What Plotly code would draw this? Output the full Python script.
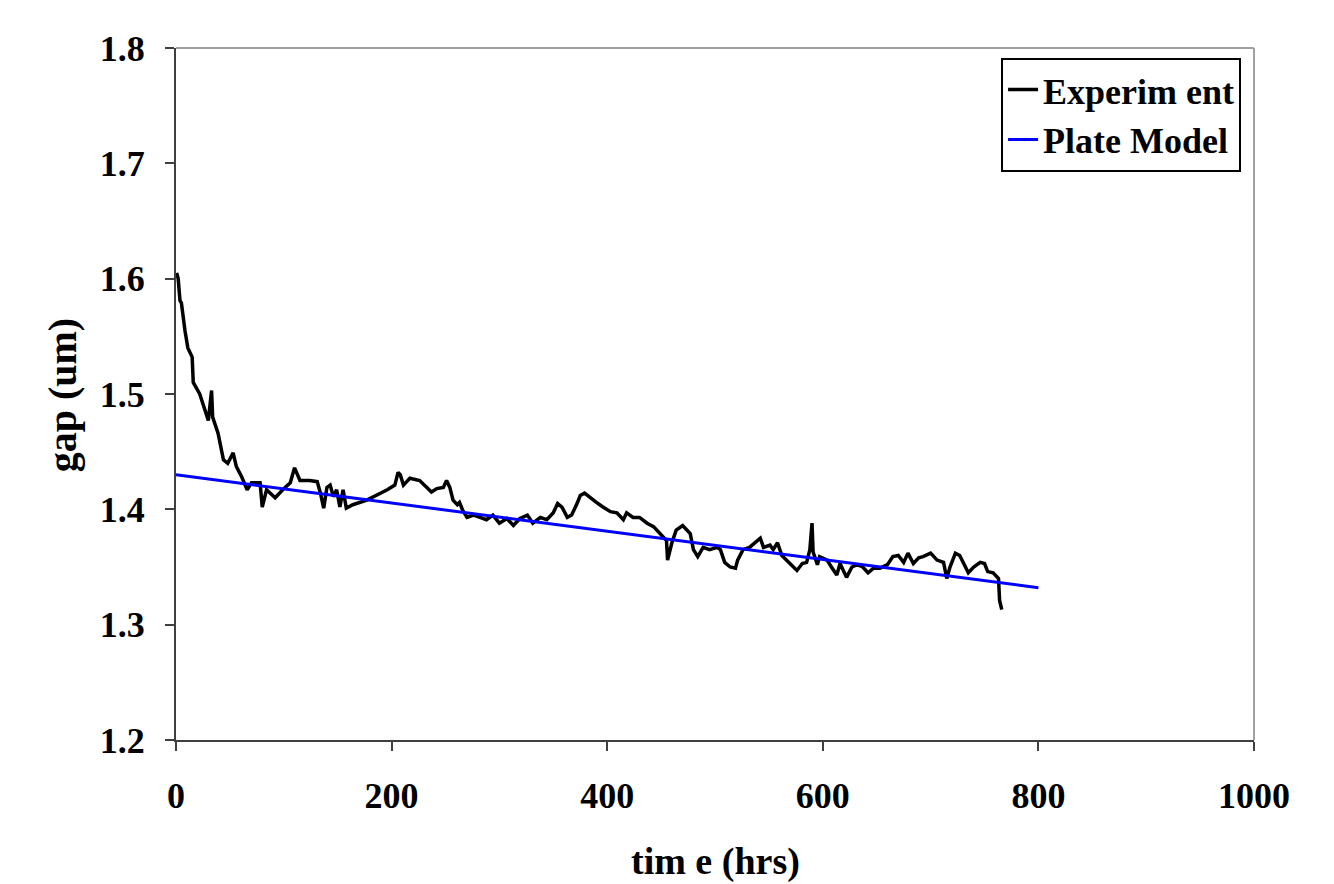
import plotly.graph_objects as go

# Experiment trace (time in hrs, gap in um)
exp_time = [0.6, 2, 3.7, 5, 8.3, 11, 15, 16, 22, 27, 30, 33, 34, 39, 44, 48, 53, 56, 61, 66,
            70, 78, 80, 84, 92, 99, 106, 110, 115, 124, 131, 134, 137, 140, 143, 146, 149, 152, 155, 158,
            164, 177, 186, 196, 203, 206, 208, 211, 214, 217, 226, 233, 237, 242, 248, 251, 254, 257, 261, 263,
            266, 270, 276, 282, 288, 294, 300, 307, 313, 319, 326, 331, 338, 344, 350, 354, 358, 363, 367, 372,
            375, 379, 384, 390, 396, 403, 409, 415, 418, 424, 430, 437, 443, 449, 455, 456, 460, 464, 470, 477,
            480, 484, 489, 495, 502, 505, 509, 514, 519, 521, 526, 532, 539, 542, 545, 551, 554, 558, 562, 570,
            576, 581, 585, 588, 590, 591, 595, 597, 604, 608, 613, 616, 622, 627, 632, 637, 642, 647, 653, 660,
            665, 670, 675, 679, 684, 689, 693, 700, 706, 712, 715, 718, 723, 727, 732, 735, 740, 746, 750, 753,
            758, 763, 764, 766]
exp_gap = [1.605, 1.600, 1.581, 1.579, 1.555, 1.540, 1.532, 1.510, 1.500, 1.486, 1.477, 1.503, 1.480, 1.466, 1.443, 1.440, 1.449, 1.437, 1.428, 1.417,
           1.423, 1.423, 1.402, 1.417, 1.410, 1.417, 1.423, 1.436, 1.425, 1.425, 1.424, 1.414, 1.401, 1.419, 1.421, 1.411, 1.417, 1.402, 1.417, 1.401,
           1.404, 1.408, 1.412, 1.417, 1.421, 1.432, 1.430, 1.421, 1.424, 1.427, 1.425, 1.419, 1.415, 1.418, 1.419, 1.425, 1.419, 1.408, 1.404, 1.406,
           1.399, 1.393, 1.395, 1.393, 1.391, 1.395, 1.388, 1.392, 1.386, 1.392, 1.395, 1.388, 1.393, 1.391, 1.397, 1.405, 1.402, 1.393, 1.395, 1.405,
           1.412, 1.414, 1.410, 1.406, 1.402, 1.398, 1.397, 1.391, 1.397, 1.393, 1.393, 1.388, 1.385, 1.379, 1.373, 1.356, 1.371, 1.382, 1.386, 1.379,
           1.365, 1.359, 1.367, 1.365, 1.367, 1.365, 1.354, 1.350, 1.349, 1.356, 1.365, 1.367, 1.372, 1.375, 1.367, 1.369, 1.365, 1.371, 1.360, 1.353,
           1.347, 1.353, 1.354, 1.365, 1.388, 1.363, 1.352, 1.359, 1.356, 1.350, 1.343, 1.353, 1.341, 1.350, 1.352, 1.350, 1.345, 1.349, 1.349, 1.352,
           1.359, 1.360, 1.354, 1.362, 1.353, 1.358, 1.359, 1.362, 1.356, 1.354, 1.340, 1.350, 1.362, 1.360, 1.350, 1.345, 1.350, 1.354, 1.353, 1.346,
           1.345, 1.340, 1.321, 1.313]

# Plate model (linear)
model_time = [0, 800]
model_gap = [1.430, 1.332]

x_ticks = [0, 200, 400, 600, 800, 1000]
y_ticks = [1.2, 1.3, 1.4, 1.5, 1.6, 1.7, 1.8]

FONT = "Liberation Serif"

fig = go.Figure()
fig.add_trace(go.Scatter(x=exp_time, y=exp_gap, mode="lines", name="<b>Experim ent</b>",
                         line=dict(color="black", width=3.5)))
fig.add_trace(go.Scatter(x=model_time, y=model_gap, mode="lines", name="<b>Plate Model</b>",
                         line=dict(color="#0000ff", width=3)))

fig.update_layout(
    width=1334, height=884,
    margin=dict(l=168, r=88, t=40, b=152, autoexpand=False),
    paper_bgcolor="white", plot_bgcolor="white",
    font=dict(family=FONT, color="black", size=32),
    showlegend=True,
    legend=dict(x=0.988, y=0.986, xanchor="right", yanchor="top",
                bgcolor="white", bordercolor="black", borderwidth=2,
                font=dict(family=FONT, size=36, color="black"),
                tracegroupgap=0, itemwidth=30),
    xaxis=dict(range=[0, 1000], tickvals=x_ticks, ticktext=[f"<b>{v}</b>" for v in x_ticks],
               showgrid=False, zeroline=False, showline=True, linecolor="#404040", linewidth=2,
               ticks="outside", ticklen=9, tickwidth=2, tickcolor="#404040", automargin=False,
               tickfont=dict(family=FONT, size=36, color="black"), ticklabelstandoff=14),
    yaxis=dict(range=[1.2, 1.8], tickvals=y_ticks, ticktext=[f"<b>{v:.1f}</b>" for v in y_ticks],
               showgrid=False, zeroline=False, showline=True, linecolor="#404040", linewidth=2,
               ticks="outside", ticklen=9, tickwidth=2, tickcolor="#404040", automargin=False,
               tickfont=dict(family=FONT, size=36, color="black"), ticklabelstandoff=13),
    annotations=[
        dict(text="<b>tim e (hrs)</b>", xref="paper", yref="paper", x=0.5, y=-0.1763,
             xanchor="center", yanchor="middle", showarrow=False,
             font=dict(family=FONT, size=38, color="black")),
        dict(text="<b>gap (um)</b>", xref="paper", yref="paper", x=-0.1045, y=0.4986,
             xanchor="center", yanchor="middle", textangle=-90, showarrow=False,
             font=dict(family=FONT, size=40, color="black")),
    ],
    shapes=[dict(type="line", xref="paper", yref="paper", x0=0, x1=1, y0=1, y1=1,
                 line=dict(color="#a0a0a0", width=2)),
            dict(type="line", xref="paper", yref="paper", x0=1, x1=1, y0=0, y1=1,
                 line=dict(color="#a0a0a0", width=2))],
)

fig.write_html("out.html")
